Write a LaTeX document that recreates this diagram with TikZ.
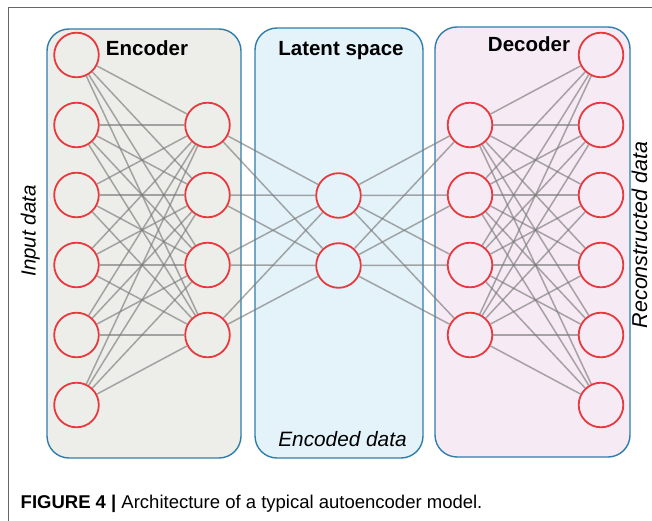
\documentclass[tikz,border=0pt]{standalone}
\usepackage{fontspec}
\setmainfont{Liberation Sans}
\definecolor{boxblue}{HTML}{2F7DAA}
\definecolor{neured}{HTML}{E8393F}
\definecolor{linkgray}{HTML}{7A7A7A}
\definecolor{encfill}{HTML}{EDEEE9}
\definecolor{latfill}{HTML}{E4F3FA}
\definecolor{decfill}{HTML}{F6EAF4}
\definecolor{framegray}{HTML}{666666}
\begin{document}
\begin{tikzpicture}[x=1pt,y=-1pt,
  layerbox/.style={draw=boxblue, line width=1.4pt, rounded corners=22pt},
  neuron/.style={circle, draw=neured, line width=1.8pt, minimum size=44.6pt, inner sep=0pt},
  link/.style={draw=linkgray, line width=1.5pt, draw opacity=0.65},
  title/.style={font=\fontsize{20.5}{24}\selectfont\bfseries, anchor=base, inner sep=0pt},
  side/.style={font=\fontsize{20.5}{24}\selectfont\itshape, anchor=base, inner sep=0pt, rotate=90},
  frameline/.style={draw=framegray, line width=1pt}]

\useasboundingbox (0,0) rectangle (652,521);

% page frame (top and left rules)
\draw[frameline] (652,8) -- (8,8) -- (8,521);

% layer panels
\draw[layerbox, fill=encfill] (47,29) rectangle (241,458);
\draw[layerbox, fill=latfill] (255,28) rectangle (423,458);
\draw[layerbox, fill=decfill] (435,27) rectangle (630,457);

% neurons
\foreach \k in {1,...,6} \node[neuron] (i\k) at (76.5, 55+70*\k-70) {};
\foreach \k in {1,...,4} \node[neuron] (e\k) at (207.5, 125+70*\k-70) {};
\foreach \k in {1,2}     \node[neuron] (l\k) at (338.5, 195.5+70*\k-70) {};
\foreach \k in {1,...,4} \node[neuron] (d\k) at (470, 125+70*\k-70) {};
\foreach \k in {1,...,6} \node[neuron] (o\k) at (601, 55+70*\k-70) {};

% fully connected weights
\foreach \a in {1,...,6} \foreach \b in {1,...,4} \draw[link] (i\a) -- (e\b);
\foreach \a in {1,...,4} \foreach \b in {1,2}     \draw[link] (e\a) -- (l\b);
\foreach \a in {1,2}     \foreach \b in {1,...,4} \draw[link] (l\a) -- (d\b);
\foreach \a in {1,...,4} \foreach \b in {1,...,6} \draw[link] (d\a) -- (o\b);

% panel titles
\node[title] (tenc) at (147,55.7) {Encoder};
\node[title] (tlat) at (341,56) {Latent space};
\node[title] (tdec) at (529,51.7) {Decoder};
\node[anchor=base, inner sep=0pt, font=\fontsize{20.8}{24}\selectfont\itshape] (tcode) at (342.5,446) {Encoded data};

% side labels
\node[side] (tin) at (35.7,231) {Input data};
\node[side, font=\fontsize{21.5}{24}\selectfont\itshape] (tout) at (647,235) {Reconstructed data};

% caption
\node[anchor=base west, inner sep=0pt, font=\fontsize{18.5}{20}\selectfont] (cap) at (20.5,508)
  {\textbf{FIGURE 4 |} Architecture of a typical autoencoder model.};
\end{tikzpicture}
\end{document}
